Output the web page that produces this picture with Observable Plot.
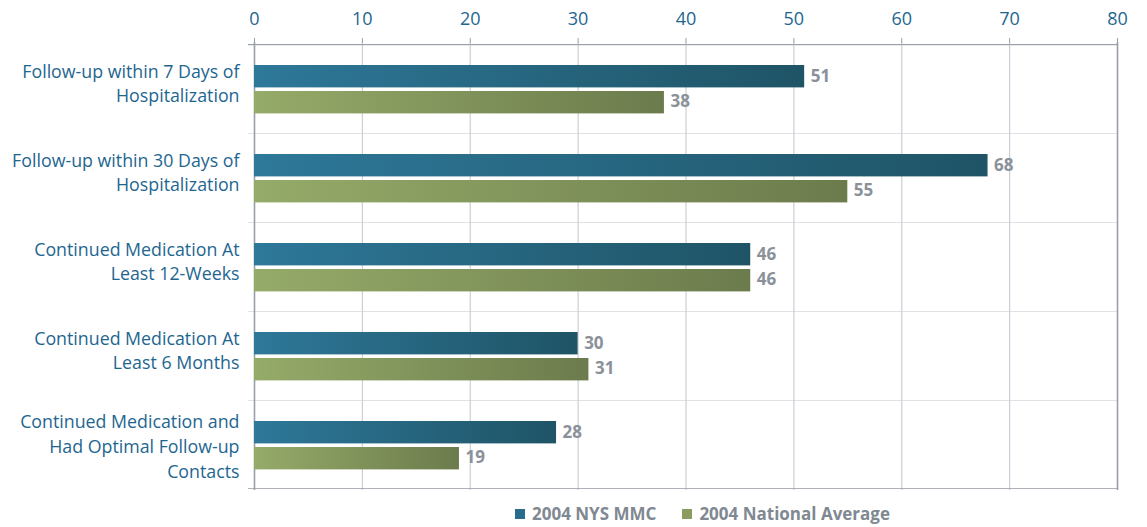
<!DOCTYPE html>
<html><head><meta charset="utf-8">
<script src="https://cdn.jsdelivr.net/npm/d3@7"></script>
<script src="https://cdn.jsdelivr.net/npm/@observablehq/plot@0.6"></script>
<style>
body{margin:0;background:#fff;font-family:"Open Sans",sans-serif}
#legend{height:27px;display:flex;justify-content:center;align-items:center;gap:26px;padding-left:258px;box-sizing:border-box;font-weight:700;font-size:17px;color:#808891}
#legend span.sw{display:inline-block;width:10px;height:10px;margin-right:7px;vertical-align:middle}
#legend .item{display:flex;align-items:center}
</style></head><body><div id="chart"></div><div id="legend"></div>
<script>
const categories = [
  "Follow-up within 7 Days of\nHospitalization",
  "Follow-up within 30 Days of\nHospitalization",
  "Continued Medication At\nLeast 12-Weeks",
  "Continued Medication At\nLeast 6 Months",
  "Continued Medication and\nHad Optimal Follow-up\nContacts"
];
const series = ["2004 NYS MMC", "2004 National Average"];
const nysValues = [51, 68, 46, 30, 28];
const nationalValues = [38, 55, 46, 31, 19];
const xTicks = [0, 10, 20, 30, 40, 50, 60, 70, 80];

const nysData = categories.map((c, i) => ({category: c, value: nysValues[i]}));
const natData = categories.map((c, i) => ({category: c, value: nationalValues[i]}));

const blue = "#1e6690";
const grey = "#8a9199";
const lineDark = "#9a9ea7";
const lineLight = "#cdced5";

const defsMark = () => {
  const defs = d3.create("svg:defs");
  const g1 = defs.append("linearGradient").attr("id", "gradBlue");
  g1.append("stop").attr("offset", "0%").attr("stop-color", "#2e7899");
  g1.append("stop").attr("offset", "100%").attr("stop-color", "#1f5466");
  const g2 = defs.append("linearGradient").attr("id", "gradGreen");
  g2.append("stop").attr("offset", "0%").attr("stop-color", "#95ab69");
  g2.append("stop").attr("offset", "100%").attr("stop-color", "#6c7b4c");
  return defs.node();
};

const chart = Plot.plot({
  width: 1147,
  height: 500,
  marginLeft: 254,
  marginRight: 30,
  marginTop: 42,
  marginBottom: 10,
  style: {fontFamily: "Open Sans", background: "#fff"},
  x: {domain: [0, 80], axis: null, label: null},
  y: {domain: categories, padding: 0, axis: null},
  marks: [
    defsMark,
    Plot.ruleX(xTicks.slice(1, -1), {stroke: lineLight, strokeWidth: 1.2}),
    Plot.barX(categories, {y: d => d, x1: -0.55, x2: 80, fill: lineLight, insetBottom: 88.4}),
    Plot.barX(categories.slice(0, 1), {y: d => d, x1: -0.55, x2: 80, fill: lineDark, insetBottom: 87.8}),
    Plot.barX(categories.slice(-1), {y: d => d, x1: -0.55, x2: 80, fill: lineDark, insetTop: 88.2}),
    Plot.ruleX([0, 80], {stroke: lineDark, strokeWidth: 1.6}),
    Plot.barX(nysData, {y: "category", x: "value", fill: "url(#gradBlue)", insetTop: 21, insetBottom: 45.6}),
    Plot.barX(natData, {y: "category", x: "value", fill: "url(#gradGreen)", insetTop: 47, insetBottom: 19.6}),
    Plot.text(nysData, {y: "category", x: "value", text: d => String(d.value), dx: 6, dy: -12.5, textAnchor: "start", fill: grey, fontWeight: "bold", fontSize: 17}),
    Plot.text(natData, {y: "category", x: "value", text: d => String(d.value), dx: 6, dy: 12.5, textAnchor: "start", fill: grey, fontWeight: "bold", fontSize: 17}),
    Plot.text(categories.slice(0, 4), {y: d => d, text: d => d, frameAnchor: "left", dx: -15, dy: -7, textAnchor: "end", fill: blue, fontSize: 17.8, lineHeight: 1.4}),
    Plot.text(categories.slice(4), {y: d => d, text: d => d, frameAnchor: "left", dx: -15, textAnchor: "end", fill: blue, fontSize: 17.8, lineHeight: 1.42}),
    Plot.axisX({anchor: "top", ticks: xTicks, tickSize: 5, tickPadding: 13, stroke: lineDark, fill: blue, fontSize: 18, label: null, tickFormat: d => String(d)})
  ]
});
document.getElementById("chart").appendChild(chart);

const legendColors = ["#2a6c8c", "#8a9c5e"];
const legend = document.getElementById("legend");
series.forEach((s, i) => {
  const item = document.createElement("div");
  item.className = "item";
  const sw = document.createElement("span");
  sw.className = "sw";
  sw.style.background = legendColors[i];
  item.appendChild(sw);
  item.appendChild(document.createTextNode(s));
  legend.appendChild(item);
});
</script>
</body></html>
